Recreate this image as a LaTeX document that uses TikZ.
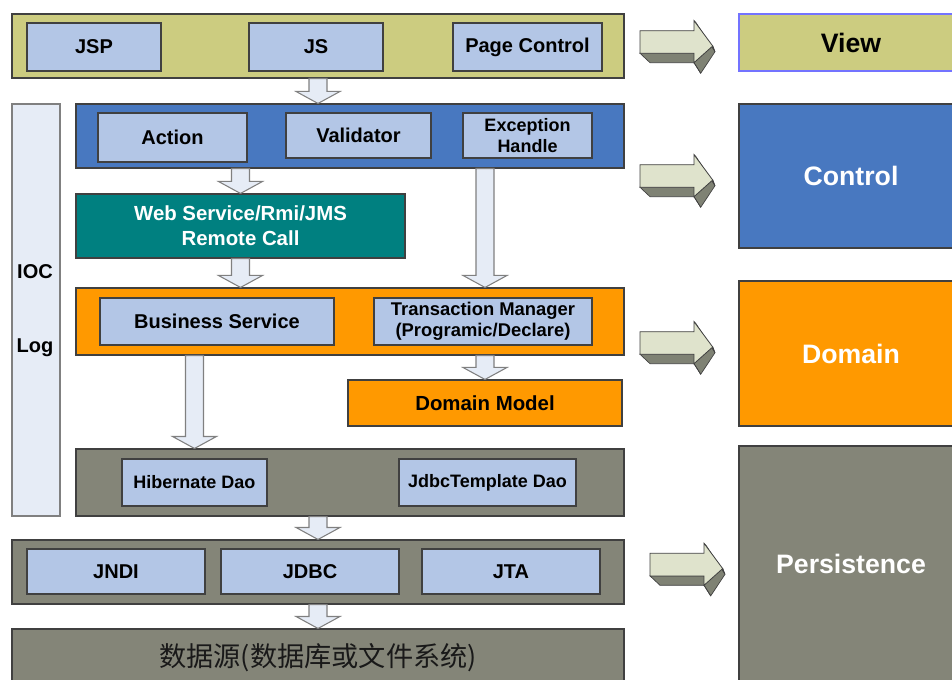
\documentclass[tikz,border=0pt]{standalone}
\usepackage{fontspec}
\setmainfont{Liberation Sans}
\newfontfamily\cjk{Noto Sans CJK SC}
\usetikzlibrary{calc}
\definecolor{viewolive}{HTML}{CCCC80}
\definecolor{ctrlblue}{HTML}{4878C0}
\definecolor{remoteteal}{HTML}{008080}
\definecolor{domorange}{HTML}{FF9900}
\definecolor{persgray}{HTML}{848578}
\definecolor{compblue}{HTML}{B3C6E6}
\definecolor{paleblue}{HTML}{E6ECF6}
\definecolor{edgegray}{HTML}{404040}
\definecolor{arrface}{HTML}{DFE3CC}
\definecolor{arrside}{HTML}{7F8274}
\tikzset{
  every picture/.style={line join=miter},
  % sizes are given in pixels of the layout grid
  wh/.style 2 args={minimum width=#1*0.75pt, minimum height=#2*0.75pt},
  layer/.style={draw=edgegray, line width=0.8pt, inner sep=0pt},
  comp/.style={draw=edgegray, fill=compblue, line width=1pt, inner sep=0pt,
    align=center, font=\bfseries\fontsize{15}{17}\selectfont},
  small/.style={font=\bfseries\fontsize{13.5}{15.75}\selectfont},
  tier/.style={draw=edgegray, line width=0.8pt, inner sep=0pt, text=white,
    font=\bfseries\fontsize{20}{24}\selectfont},
  % hollow arrow pointing down; x comes from the start point, y of the head from the target
  flow/.style={draw=gray, fill=paleblue, line width=0.8pt,
    to path={let \p1=(\tikztostart), \p2=(\tikztotarget) in
      (\x1-9*0.75pt,\y1) -- (\x1+9*0.75pt,\y1) -- (\x1+9*0.75pt,\y2+12*0.75pt)
      -- (\x1+22*0.75pt,\y2+12*0.75pt) -- (\x1,\y2) -- (\x1-22*0.75pt,\y2+12*0.75pt)
      -- (\x1-9*0.75pt,\y2+12*0.75pt) -- cycle}},
  % thick extruded arrow pointing right
  fatarrow/.pic={
    \fill[arrside, draw=edgegray, line width=0.5pt] (0,22.6) -- (10,32) -- (54,32) -- (60.7,42.6)
      -- (75,21) -- (72.7,15.3) -- (54,22.6) -- cycle;
    \draw[edgegray, line width=0.5pt] (54,32) -- (60.7,42.6) (72.7,15.3) -- (75,21)
      (54,-10) -- (56,-8) -- (75,21);
    \fill[arrface, draw=edgegray, line width=0.6pt] (0,0) -- (54,0) -- (54,-10) -- (72.7,15.3)
      -- (54,32) -- (54,22.6) -- (0,22.6) -- cycle;
  },
}

\begin{document}
\begin{tikzpicture}[x=0.75pt, y=-0.75pt]
  \useasboundingbox (0,0) rectangle (952,680);
  \clip (0,0) rectangle (952,680);

  % view layer
  \node[layer, fill=viewolive, wh={612}{64}] (view) at (318,46) {};
  \node[comp, wh={134}{48}] (jsp) at (94,47) {JSP};
  \node[comp, wh={134}{48}] (js) at (316,47) {JS};
  \node[comp, wh={149}{48}] (page) at (527.5,47) {Page Control};

  % IOC / Log column
  \node[layer, draw=gray, fill=paleblue, wh={48}{412}] (side) at (36,310) {};
  \node[font=\bfseries\fontsize{15}{17}\selectfont] (ioc) at (35,272) {IOC};
  \node[font=\bfseries\fontsize{15}{17}\selectfont] (log) at (35,348) {Log};

  % control layer
  \node[layer, fill=ctrlblue, wh={548}{64}] (ctrl) at (350,136) {};
  \node[comp, wh={149}{49}] (act) at (172.5,137.5) {Action};
  \node[comp, wh={145}{45}] (val) at (358.5,135.5) {Validator};
  \node[comp, small, wh={129}{45}] (exc) at (527.5,135.5) {Exception\\Handle};

  \node[layer, fill=remoteteal, text=white, align=center, wh={329}{64},
    font=\bfseries\fontsize{15.3}{18.5}\selectfont] (rmi) at (240.5,226)
    {Web Service/Rmi/JMS\\Remote Call};

  % domain layer
  \node[layer, fill=domorange, wh={548}{67}] (dom) at (350,321.5) {};
  \node[comp, font=\bfseries\fontsize{15}{17}\selectfont, wh={234}{47}] (bsv) at (217,321.5)
    {Business Service};
  \node[comp, font=\bfseries\fontsize{13.8}{15.75}\selectfont, wh={218}{47}] (tx) at (483,321.5)
    {Transaction Manager\\(Programic/Declare)};
  \node[layer, fill=domorange, font=\bfseries\fontsize{15.3}{17}\selectfont, wh={274}{46}] (model)
    at (485,403) {Domain Model};

  % persistence layers
  \node[layer, fill=persgray, wh={548}{67}] (dao) at (350,482.5) {};
  \node[comp, small, wh={145}{47}] (hib) at (194.5,482.5) {Hibernate Dao};
  \node[comp, small, wh={177}{47}] (jdbct) at (487.5,482.5) {JdbcTemplate Dao};

  \node[layer, fill=persgray, wh={612}{64}] (api) at (318,572) {};
  \node[comp, wh={178}{45}] (jndi) at (116,571.5) {JNDI};
  \node[comp, wh={178}{45}] (jdbc) at (310,571.5) {JDBC};
  \node[comp, wh={178}{45}] (jta) at (511,571.5) {JTA};

  \node[layer, fill=persgray, text=black!90, wh={612}{57},
    font=\cjk\fontsize{20.4}{23}\selectfont] (ds) at (318,657.5) {数据源(数据库或文件系统)};

  % flow between layers
  \draw[flow] (view.south) to (ctrl.north);
  \draw[flow] (ctrl.south -| rmi.north) to (rmi.north);
  \draw[flow] (ctrl.south -| model.north) to (dom.north);
  \draw[flow] (rmi.south) to (dom.north);
  \draw[flow] (dom.south -| model.north) to (model.north);
  \draw[flow] (dom.south -| hib.north) to (dao.north);
  \draw[flow] (dao.south -| api.north) to (api.north);
  \draw[flow] (api.south) to (ds.north);

  % tiers on the right
  \node[tier, fill=viewolive, draw=blue!55, text=black, wh={224}{57}] (tview) at (851,42.5) {View};
  \node[tier, fill=ctrlblue, wh={224}{144}] (tctrl) at (851,176) {Control};
  \node[tier, fill=domorange, wh={224}{145}] (tdom) at (851,353.5) {Domain};
  \node[tier, fill=persgray, wh={224}{236}] (tpers) at (851,564) {Persistence};

  \pic at (640,30.7) {fatarrow};
  \pic at (640,164.7) {fatarrow};
  \pic at (640,331.7) {fatarrow};
  \pic at (650,553.3) {fatarrow};
\end{tikzpicture}
\end{document}
